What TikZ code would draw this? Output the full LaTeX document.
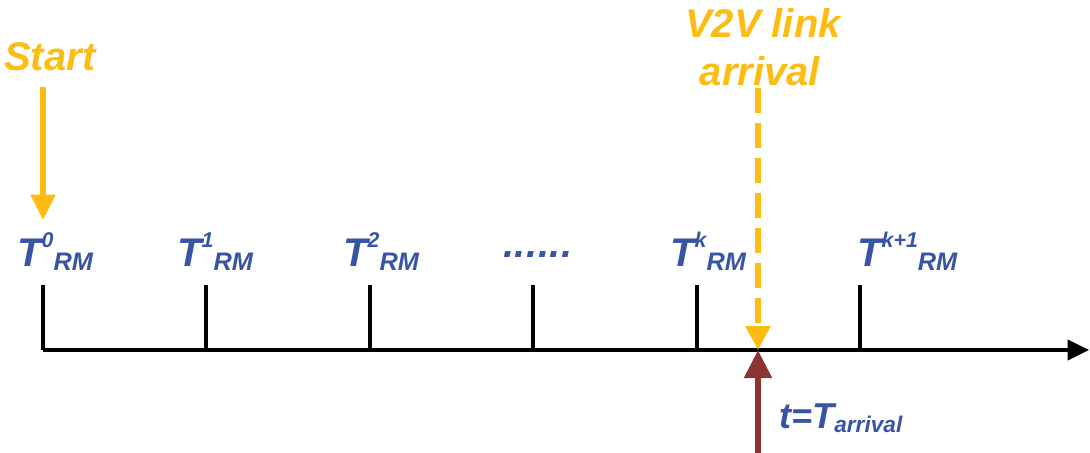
\documentclass[tikz,border=0pt]{standalone}
\usepackage{fontspec}
\setmainfont{Liberation Sans}
\usetikzlibrary{arrows.meta}
\definecolor{myyellow}{RGB}{252,188,18}
\definecolor{myblue}{RGB}{56,84,164}
\definecolor{myred}{RGB}{140,52,50}
\newcommand{\Tlab}[1]{T\raisebox{13.5pt}{\fontsize{16}{18}\selectfont #1}\raisebox{-3pt}{\fontsize{19}{20}\selectfont RM}}
\newcommand{\mydots}{.\kern0.4pt.\kern0.4pt.\kern0.4pt.\kern0.4pt.\kern0.4pt.}
\tikzset{
  bigtext/.style={inner sep=0pt, font=\fontsize{30}{34}\selectfont\bfseries\itshape},
  yellowtext/.style={bigtext, text=myyellow},
  bluetext/.style={bigtext, text=myblue, anchor=base west},
  tick/.style={line width=2.3pt, black},
  axis/.style={line width=2.8pt, black, -{Triangle[length=16pt,width=15pt]}},
  startarrow/.style={line width=3.8pt, myyellow, -{Triangle[length=19pt,width=18pt]}},
  linkarrow/.style={line width=4.5pt, myyellow, dash pattern=on 18.75pt off 7.5pt, -{Triangle[length=18pt,width=18pt]}},
  arrarrow/.style={line width=4.5pt, myred, -{Triangle[length=21pt,width=20pt]}},
}
\begin{document}
\begin{tikzpicture}[x=0.75pt,y=-0.75pt]
\useasboundingbox (0,0) rectangle (1090,453);
% texts
\node[yellowtext, anchor=base west] (start) at (4,71) {Start};
\node[yellowtext, anchor=base] (v2v) at (763,38) {V2V link};
\node[yellowtext, anchor=base] (arr) at (760,86) {arrival};
% axis
\coordinate (ax0) at (43,350);
\coordinate (ax1) at (1089,350);
\draw[axis] (ax0) -- (ax1);
% ticks
\foreach \n/\x in {0/43,1/206,2/370,3/533,4/697,5/860}{
  \coordinate (tt\n) at (\x,285);
  \coordinate (tb\n) at (\x,350);
  \draw[tick] (tt\n) -- (tb\n);
}
% tick labels
\node[bluetext] (l0) at (17,266) {\Tlab{0}};
\node[bluetext] (l1) at (177,266) {\Tlab{1}};
\node[bluetext] (l2) at (343,266) {\Tlab{2}};
\node[bluetext] (l3) at (503,257) {\mydots};
\node[bluetext] (l4) at (670,266) {\Tlab{k}};
\node[bluetext] (l5) at (857,266) {\Tlab{k+1}};
% start arrow
\coordinate (s0) at (43,87);
\coordinate (s1) at (43,220);
\draw[startarrow] (s0) -- (s1);
% V2V link arrow
\coordinate (a0) at (758,88);
\coordinate (a1) at (758,350);
\draw[linkarrow] (a0) -- (a1);
% arrival arrow
\coordinate (r0) at (758,453);
\draw[arrarrow] (r0) -- (a1);
\node[bigtext, text=myblue, anchor=base west] (tarr) at (779,428) {{\fontsize{27}{30}\selectfont t=T}\raisebox{-3pt}{\fontsize{17}{18}\selectfont arrival}};
\end{tikzpicture}
\end{document}
